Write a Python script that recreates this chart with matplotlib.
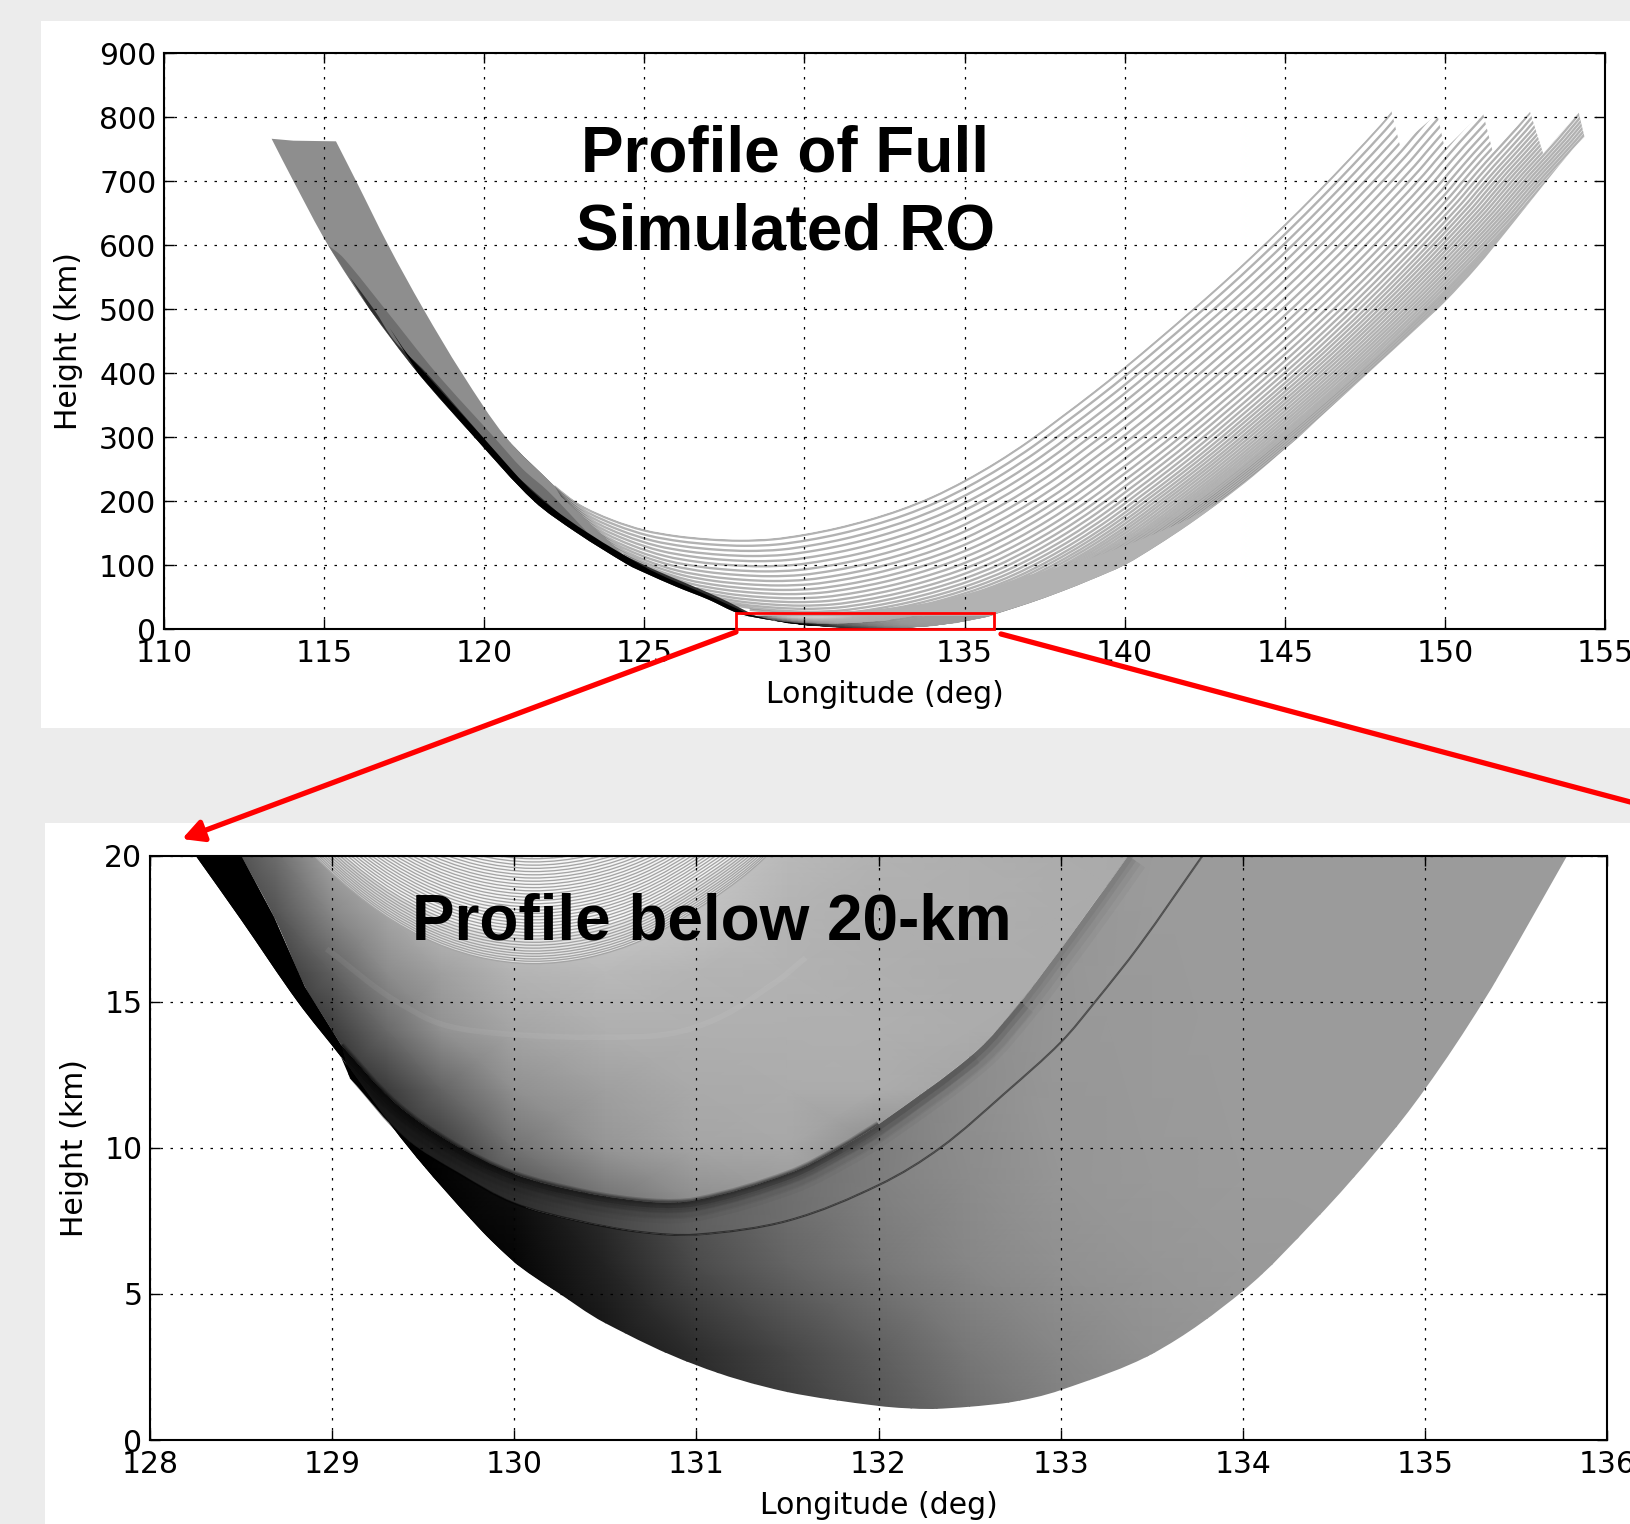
import numpy as np
import matplotlib
matplotlib.use("Agg")
import matplotlib.pyplot as plt
from matplotlib.patches import Rectangle, PathPatch, FancyArrowPatch
from matplotlib.path import Path

W, H = 1630, 1524
BG = "#ececec"
MONO = "DejaVu Sans"
TITLE = "Liberation Sans"

# ---------- upper panel: values ----------
xticks_full = list(range(110, 156, 5))
yticks_full = list(range(0, 901, 100))
xticks_zoom = list(range(128, 137))
yticks_zoom = [0, 5, 10, 15, 20]

# highest ray
top_ray_lon = [120.67, 121.5, 122.2, 123, 124, 125, 126, 127, 128, 129, 130, 131, 132, 133, 134, 135,
               136, 137, 138, 139, 140, 141, 142, 143, 144, 145, 146, 147, 148, 148.34, 149, 150, 151]
top_ray_h = [300, 258, 223, 193, 170, 154, 145, 140, 138, 140, 147, 157, 170, 186, 206, 231,
             260, 293, 330, 368, 408, 450, 493, 537, 583, 631, 681, 733, 787, 807, 845, 900, 960]
# position of each following ray relative to the highest one
ray_dlon = [0, .13, .26, .39, .52, .65, .78, .92, 1.06, 1.20, 1.34, 1.48, 1.62, 1.76, 1.90, 2.03, 2.16, 2.29, 2.41,
            2.53, 2.65, 2.76, 2.87, 2.98, 3.09, 3.20, 3.31, 3.42, 3.53, 3.64, 3.75, 3.86, 3.97, 4.08, 4.19, 4.3, 4.4, 4.5,
            4.6, 4.7, 4.8]
ray_dh = [0, 8, 16, 24, 32, 40, 48, 55.5, 63, 70, 77, 83.5, 90, 96, 101.5, 106.5, 111, 115, 118.5,
          121.5, 124, 126, 128, 129.5, 131, 132, 133, 134, 134.8, 135.5, 136, 136.4, 136.7, 137, 137, 137, 137, 137,
          137, 137, 137]

# lower edge of the whole family
low_lon = [113.36, 114.04, 115.12, 116.42, 117.93, 119.69, 121.55, 122.9, 124.5, 125, 126, 127, 127.8, 128.25,
           128.81, 129.42, 130.26, 131, 132, 132.3, 133, 134, 134.75, 135.32, 135.78, 136, 137, 138, 139, 140, 141,
           142, 143, 144, 145, 145.4, 146, 147, 148, 149, 150, 151, 152, 153.1, 154, 154.36]
low_h = [766, 700, 600, 500, 400, 300, 200, 150, 100, 88, 66, 46, 27, 20,
         15, 10, 5, 2.56, 1.17, 1.07, 1.7, 5.1, 10, 15, 20, 24, 40, 58, 78, 100, 130,
         163, 199, 238, 281, 298, 326, 372, 418, 464, 511, 565, 626, 695, 750, 769]
# saw-tooth ends of the rays, right to left
saw_lon = [154.18, 153.07, 152.66, 151.5, 151.18, 150.0, 149.76, 148.6, 148.34]
saw_h = [807, 743, 808, 745, 808, 750, 805, 755, 807]
# upper edge of the left branch, from the bottom up, then the cut top
up_lon = [122.2, 120.67, 119.3, 118.1, 117.0, 116.0, 115.37]
up_h = [223, 300, 400, 500, 600, 700, 762]
cut_lon = [114.04, 113.36]
cut_h = [763, 766]
band_tip_lon = [124.3, 123.3, 122.4]
band_tip_h = [118, 165, 207]
# dark strips along the left branch
d1_lon = [115.12, 115.6, 116.9, 118.5, 120.3, 121.2, 122.0, 123.2]
d1_h = [600, 580, 500, 400, 300, 250, 215, 152]
d2_lon = [115.8, 116.55, 117.2, 118.2, 119.95, 120.8, 121.9, 123.1, 125.0, 127.3, 128.5]
d2_h = [550, 500, 450, 400, 300, 250, 200, 150, 100, 50, 20]
d3_lon = [117.05, 117.6, 118.15, 119.95, 121.85, 124.9, 127.1, 128.4]
d3_h = [470, 430, 400, 300, 200, 100, 50, 20]
# solid part just above the lower edge
solid_lon = [128, 130, 132, 134, 135, 136, 137, 138, 139, 140, 141, 142, 143]
solid_h = [20, 25, 30, 42, 54, 68, 84, 97, 112, 130, 150, 172, 200]

# ---------- lower panel: values ----------
outer_lon = [128.25, 128.5, 128.81, 129.05, 129.42, 129.8, 130, 130.22, 130.5, 131, 131.5, 132, 132.3, 132.7,
             133, 133.5, 134, 134.4, 134.75, 135, 135.32, 135.5, 135.78]
outer_h = [20, 17.8, 15, 13.1, 10, 7.3, 6.1, 5.13, 4.0, 2.56, 1.65, 1.17, 1.07, 1.27,
           1.7, 2.95, 5.1, 7.55, 10, 12, 15, 16.9, 20]
inner_lon = [128.5, 128.68, 128.85, 128.94]
inner_h = [20, 17.9, 15.5, 14.6]
c1_lon = [129.05, 129.35, 129.67, 130, 130.4, 130.75, 131, 131.5, 131.79, 132, 132.52, 132.78, 133, 133.2, 133.37]
c1_h = [13.5, 11.5, 10.1, 9.1, 8.45, 8.15, 8.2, 9.1, 10, 10.8, 13.2, 15, 16.8, 18.5, 20]
c2_lon = [129.1, 129.41, 129.7, 130, 130.35, 130.69, 131, 131.5, 132, 132.34, 132.7, 133, 133.19, 133.43, 133.78]
c2_h = [12.4, 10.26, 9.1, 8.1, 7.5, 7.12, 7.03, 7.5, 8.72, 10, 11.9, 13.6, 15, 16.9, 20]
streak_lon = [128.97, 129.41, 129.78, 130.69, 131.05, 131.42, 131.6]
streak_h = [16.8, 14.8, 14, 13.8, 14.25, 15.6, 16.5]

# grey levels read across the three shaded regions
r1_lon = [128.4, 128.7, 129, 129.3, 129.6, 130, 130.5, 131, 131.5, 132, 132.5, 133, 133.5]
r1_h = [8, 10, 12, 14, 16, 18, 20]
r1_grey = [[40, 40, 40, 40, 50, 70, 110, 140, 150, 150, 150, 150, 150],
           [40, 40, 40, 40, 60, 115, 150, 165, 168, 140, 140, 150, 150],
           [40, 40, 40, 60, 100, 145, 160, 170, 172, 172, 165, 150, 150],
           [40, 40, 60, 105, 145, 165, 175, 175, 175, 175, 172, 170, 165],
           [40, 55, 95, 140, 160, 180, 185, 180, 178, 175, 172, 172, 170],
           [55, 85, 135, 165, 190, 200, 205, 195, 180, 175, 175, 172, 170],
           [70, 110, 165, 190, 200, 205, 205, 200, 185, 178, 175, 172, 170]]
r2_lon = [129, 129.5, 130, 130.5, 131, 131.5, 132, 132.5, 133, 133.5, 134]
r2_h = [5, 20]
r2_grey = [[20, 30, 45, 70, 95, 110, 125, 140, 150, 155, 155],
           [20, 30, 45, 70, 95, 110, 125, 140, 150, 155, 155]]
r3_lon = [128.9, 129.5, 130, 130.5, 131, 131.5, 132, 132.5, 133, 133.5, 134, 135, 136]
r3_h = [0, 3, 6, 9, 20]
r3_grey = [[0, 0, 0, 15, 35, 55, 80, 105, 125, 140, 150, 155, 155],
           [0, 0, 0, 20, 45, 70, 95, 120, 135, 145, 152, 155, 155],
           [0, 0, 5, 35, 75, 100, 120, 135, 145, 150, 153, 155, 155],
           [0, 0, 15, 50, 90, 115, 130, 140, 150, 153, 155, 155, 155],
           [0, 0, 20, 60, 100, 125, 140, 150, 155, 155, 155, 155, 155]]

# the separate fine rays at the top of the lower panel
arc_dlon = [-1.5, -1.2, -.9, -.6, -.3, 0, .3, .6, .9, 1.2, 1.5]
arc_dh = [5.8, 3.7, 2.05, .9, .23, 0, .2, .8, 1.85, 3.2, 5.0]
arc_apex_lon = 130.1
arc_apex_h = [16.3, 16.38, 16.46, 16.55, 16.64, 16.73, 16.83, 16.93, 17.03, 17.14, 17.25, 17.36, 17.47, 17.58, 17.69,
              17.8, 17.91, 18.02, 18.13, 18.24, 18.35, 18.46, 18.57, 18.68, 18.79, 18.9, 19.01, 19.12, 19.23, 19.34,
              19.45, 19.56, 19.67, 19.78, 19.89]


def fx(px):
    return px / W


def fy(py):
    return 1 - py / H


def curve_path(parts, closed=False):
    """Bezier path through read points. A part is (xs, ys) or (xs, ys, False) for straight joins."""
    verts, codes = [], []
    for part in parts:
        p = np.column_stack([np.asarray(part[0], float), np.asarray(part[1], float)])
        smooth = len(part) == 2 and len(p) > 2
        if verts:
            verts.append(p[0]); codes.append(Path.LINETO)
        else:
            verts.append(p[0]); codes.append(Path.MOVETO)
        if smooth:
            # tangents in a pixel-like scale so that both axes weigh alike
            sc = np.array([1.0, (p[:, 0].max() - p[:, 0].min()) / max(p[:, 1].max() - p[:, 1].min(), 1e-6)])
            q = p * sc
            t = np.zeros_like(q)
            t[1:-1] = q[2:] - q[:-2]
            t[0] = q[1] - q[0]
            t[-1] = q[-1] - q[-2]
            t /= np.maximum(np.linalg.norm(t, axis=1, keepdims=True), 1e-9)
            for i in range(len(q) - 1):
                d = np.linalg.norm(q[i + 1] - q[i]) / 3
                verts += [(q[i] + t[i] * d) / sc, (q[i + 1] - t[i + 1] * d) / sc, p[i + 1]]
                codes += [Path.CURVE4] * 3
        else:
            for r in p[1:]:
                verts.append(r); codes.append(Path.LINETO)
    if closed:
        verts.append(verts[0]); codes.append(Path.CLOSEPOLY)
    return Path(np.array(verts), codes)


def filled(ax, parts, **kw):
    kw.setdefault("ec", "none")
    pp = PathPatch(curve_path(parts, True), **kw)
    ax.add_patch(pp)
    return pp


def stroke(ax, xs, ys, clip=None, **kw):
    pp = PathPatch(curve_path([(xs, ys)]), fill=False, capstyle="butt", **kw)
    ax.add_patch(pp)
    if clip is not None:
        pp.set_clip_path(clip)
    return pp


def add_axes(left, right, top, bottom):
    return fig.add_axes([fx(left), fy(bottom), (right - left) / W, (bottom - top) / H], facecolor="white")


def style(ax, xt, yt, xl, yl, xlab_y, ylab_x):
    ax.set_xlim(xl)
    ax.set_ylim(yl)
    ax.set_xticks(xt)
    ax.set_yticks(yt)
    ax.tick_params(direction="in", length=7, width=1.0, top=True, right=True, labelsize=21.5, labelcolor="black")
    ax.tick_params(axis="y", pad=5.5)
    ax.tick_params(axis="x", pad=7)
    ax.set_axisbelow(False)
    ax.grid(True, color="black", linewidth=0.9, linestyle=(0, (2, 6)))
    for s in ax.spines.values():
        s.set_linewidth(1.5)
    ax.set_xlabel("Longitude (deg)", fontsize=21.5)
    ax.set_ylabel("Height (km)", fontsize=21.5)
    ax.xaxis.set_label_coords(0.5, xlab_y)
    ax.yaxis.set_label_coords(ylab_x, 0.5)


def shading(ax, z=1.5):
    oL, oH, iL, iH = outer_lon, outer_h, inner_lon, inner_h
    # black backing so that no seam shows between the regions
    filled(ax, [(oL[:8], oH[:8]), (c1_lon[:4][::-1], c1_h[:4][::-1]), (iL[::-1], iH[::-1], False)], fc="black", zorder=z - .02)
    polys = {}
    shapes = {"r1": [(iL, iH), (c1_lon, c1_h)],
              "r2": [(c1_lon, c1_h), (c2_lon[::-1], c2_h[::-1])],
              "r3": [(c2_lon, c2_h), (oL[::-1][:-3], oH[::-1][:-3])]}
    for name, lo, hi, g in [("r1", r1_lon, r1_h, r1_grey), ("r2", r2_lon, r2_h, r2_grey), ("r3", r3_lon, r3_h, r3_grey)]:
        pg = filled(ax, shapes[name], fc="none")
        m = ax.pcolormesh(lo, hi, np.array(g, float), cmap="gray", vmin=0, vmax=255, shading="gouraud", zorder=z)
        m.set_clip_path(pg)
        polys[name] = pg
    filled(ax, [(oL[:4], oH[:4]), ([129.05], [13.5], False), (iL[::-1], iH[::-1], False)], fc="black", zorder=z + .01)
    return polys


fig = plt.figure(figsize=(W / 100, H / 100), dpi=100, facecolor=BG)
plt.rcParams["font.family"] = MONO
fig.add_artist(Rectangle((fx(41), fy(728)), 1 - fx(41), (728 - 21) / H, transform=fig.transFigure, fc="white", ec="none", zorder=-5))
fig.add_artist(Rectangle((fx(45), 0), 1 - fx(45), (1524 - 823) / H, transform=fig.transFigure, fc="white", ec="none", zorder=-5))

# ---------- upper panel ----------
ax1 = add_axes(164, 1605, 53, 629)
style(ax1, xticks_full, yticks_full, (110, 155), (0, 900), -0.0885, -0.056)

base_lon = np.array(top_ray_lon)
base_h = np.array(top_ray_h, dtype=float)
m = (base_lon <= 148.34) & (base_lon >= 122.2)
clip1 = filled(ax1, [(low_lon, low_h), (saw_lon, saw_h, False),
                     (base_lon[m][::-1], base_h[m][::-1] + 2), (up_lon, up_h), (cut_lon, cut_h, False)], fc="none")
for dx, dy in zip(ray_dlon, ray_dh):
    rx, ry = base_lon + dx, base_h - dy
    # a ray is drawn from where it leaves the lower edge of the family
    near = np.where((ry - np.interp(rx, low_lon, low_h) < 12) & (rx < 131))[0]
    start = near[-1] if len(near) else 0
    stroke(ax1, rx[start:], ry[start:], clip=clip1, ec="black", alpha=0.30, lw=1.7, zorder=1.1)

low_arr_lon, low_arr_h = np.array(low_lon), np.array(low_h)
sel = (low_arr_lon >= 128) & (low_arr_lon <= 143)
filled(ax1, [(solid_lon, solid_h), (low_arr_lon[sel][::-1], low_arr_h[sel][::-1])], fc="#b2b2b2", zorder=1.2)
sel = low_arr_lon <= 124.5
filled(ax1, [(low_arr_lon[sel], low_arr_h[sel]), (band_tip_lon, band_tip_h, False), (up_lon, up_h), (cut_lon, cut_h, False)],
       fc="#8e8e8e", zorder=1.25)
for dl, dh, col, stop, zz in [(d1_lon, d1_h, "#6f6f6f", 123.5, 1.3), (d2_lon, d2_h, "#2e2e2e", 128.25, 1.31), (d3_lon, d3_h, "#000000", 128.25, 1.32)]:
    sel = (low_arr_lon >= dl[0] - .3) & (low_arr_lon <= stop)
    filled(ax1, [(low_arr_lon[sel], low_arr_h[sel]), (dl[::-1], dh[::-1])], fc=col, zorder=zz)
shading(ax1)
ax1.add_patch(Rectangle((127.87, 0), 8.05, 25.5, fill=False, ec="#ff0000", lw=2.0, clip_on=False, zorder=5))

# ---------- lower panel ----------
ax2 = add_axes(150, 1607, 855.5, 1440)
style(ax2, xticks_zoom, yticks_zoom, (128, 136), (0, 20), -0.087, -0.0416)
polys = shading(ax2)

arc_dl = np.array(arc_dlon)
arc_d = np.array(arc_dh)
for first, al in [(arc_apex_h[0], 0.6), (arc_apex_h[10], 0.6)]:
    w = filled(ax2, [(arc_apex_lon + arc_dl, first + arc_d)], fc="white", alpha=al, zorder=1.6)
    w.set_clip_path(polys["r1"])
for a in arc_apex_h:
    stroke(ax2, arc_apex_lon + arc_dl, a + arc_d, clip=polys["r1"], ec="#a4a4a4", lw=0.95, zorder=1.7)

# dark shoulder below the first caustic; fine caustic lines; faint light streak
for n, lw, al in [(15, 30, .03), (15, 22, .04), (15, 14, .05), (15, 8, .05), (12, 24, .04), (12, 15, .05), (12, 8, .05),
                  (11, 16, .04), (10, 11, .06), (10, 5, .06), (9, 8, .06), (9, 3.5, .06), (9, 2.5, .06)]:
    stroke(ax2, c1_lon[:n], c1_h[:n], clip=polys["r2"], ec="black", lw=lw, alpha=al, zorder=1.8)
for lw in [5, 3.5, 2.5, 1.5]:
    stroke(ax2, c1_lon[:10], c1_h[:10], clip=polys["r1"], ec="black", lw=lw, alpha=.16, zorder=1.8)
stroke(ax2, c2_lon, c2_h, ec="black", lw=1.5, alpha=0.5, zorder=1.85)
stroke(ax2, streak_lon, streak_h, clip=polys["r1"], ec="white", lw=4, alpha=0.06, zorder=1.8)

# ---------- titles ----------
for txt, x, y in [("Profile of Full", 785, 155), ("Simulated RO", 785, 232), ("Profile below 20-km", 711.5, 922)]:
    fig.text(fx(x), fy(y), txt, family=TITLE, weight="bold", fontsize=46, color="black", ha="center", va="center", zorder=6)

# ---------- red connectors ----------
fig.add_artist(FancyArrowPatch((fx(736), fy(632)), (fx(182), fy(839)), transform=fig.transFigure,
                               arrowstyle="-|>,head_length=0.42,head_width=0.22", mutation_scale=30,
                               color="#ff0000", lw=3.8, shrinkA=0, shrinkB=0, zorder=7, clip_on=False))
fig.add_artist(FancyArrowPatch((fx(1001), fy(634)), (fx(1700), fy(820.6)), transform=fig.transFigure,
                               arrowstyle="-", color="#ff0000", lw=3.8, shrinkA=0, shrinkB=0, zorder=7, clip_on=False))

fig.savefig("out.png", dpi=100, facecolor=BG)
